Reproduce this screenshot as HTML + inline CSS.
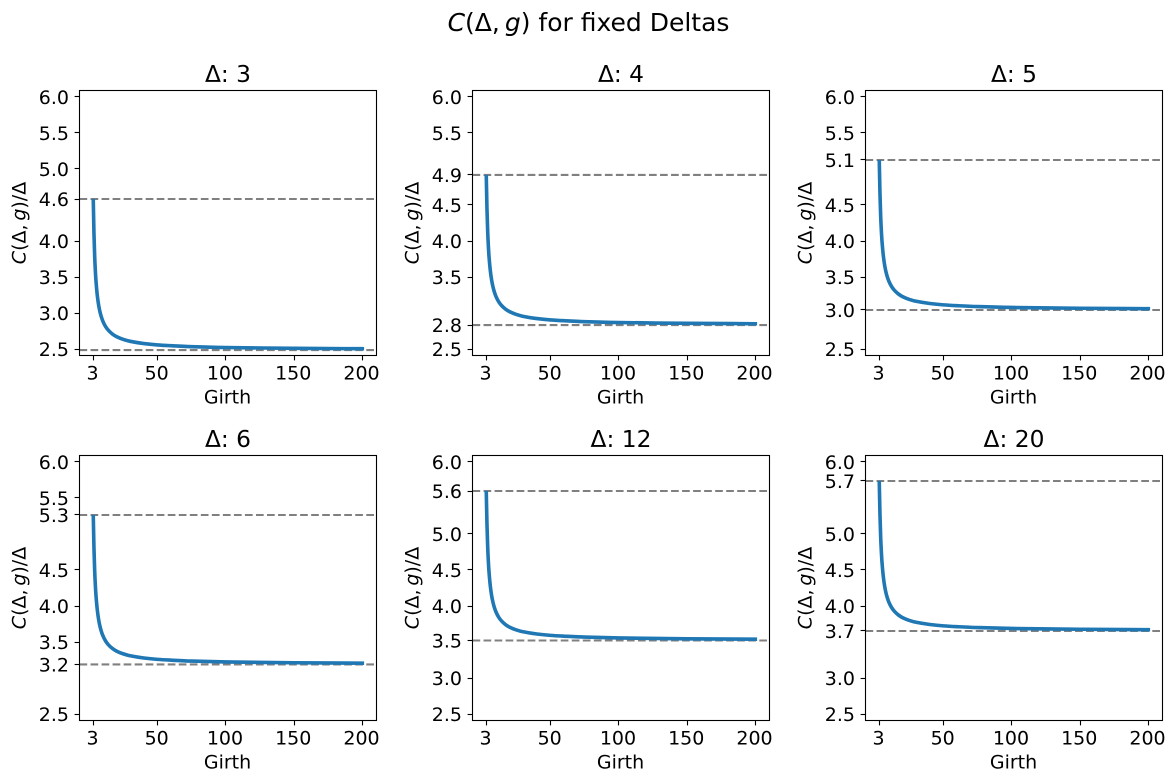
<!DOCTYPE html>
<html lang="en">
<head>
<meta charset="utf-8">
<title>C(Δ,g) for fixed Deltas</title>
<style>
html,body{margin:0;padding:0;background:#fff;width:1176px;height:783px;overflow:hidden}
svg{display:block}
text{font-family:"DejaVu Sans","Liberation Sans",sans-serif;fill:#000}
</style>
</head>
<body>
<svg id="figure" xmlns="http://www.w3.org/2000/svg" width="1176" height="783" viewBox="0 0 1176 783">
  <rect width="1176" height="783" fill="#fff"/>
  <text x="588.5" y="31" font-size="25" text-anchor="middle"><tspan font-style="italic">C</tspan>(Δ,&#8201;<tspan font-style="italic">g</tspan>) for fixed Deltas</text>
</svg>
<script>
const deltas = [3, 4, 5, 6, 12, 20];
const girths = [3, 3.5, 4, 4.5, 5, 6, 7, 8, 9, 10, 12, 14, 17, 20, 25, 30, 40, 50, 60, 75, 100, 150, 200];
const series3 = [4.559, 4.101, 3.796, 3.589, 3.437, 3.233, 3.100, 3.008, 2.940, 2.887, 2.812, 2.761, 2.708, 2.672, 2.633, 2.607, 2.576, 2.557, 2.546, 2.533, 2.521, 2.510, 2.504];
const series4 = [4.893, 4.448, 4.143, 3.936, 3.784, 3.580, 3.447, 3.355, 3.287, 3.234, 3.159, 3.108, 3.055, 3.019, 2.980, 2.954, 2.923, 2.904, 2.893, 2.880, 2.868, 2.857, 2.851];
const series5 = [5.101, 4.657, 4.352, 4.145, 3.993, 3.789, 3.656, 3.564, 3.496, 3.443, 3.368, 3.317, 3.264, 3.228, 3.189, 3.163, 3.132, 3.113, 3.102, 3.089, 3.077, 3.066, 3.060];
const series6 = [5.240, 4.803, 4.498, 4.291, 4.139, 3.935, 3.802, 3.710, 3.642, 3.589, 3.514, 3.463, 3.410, 3.374, 3.335, 3.309, 3.278, 3.259, 3.248, 3.235, 3.223, 3.212, 3.206];
const series12 = [5.573, 5.136, 4.831, 4.624, 4.472, 4.268, 4.135, 4.043, 3.975, 3.922, 3.847, 3.796, 3.743, 3.707, 3.668, 3.642, 3.611, 3.592, 3.581, 3.568, 3.556, 3.545, 3.539];
const series20 = [5.712, 5.268, 4.963, 4.756, 4.604, 4.400, 4.267, 4.175, 4.107, 4.054, 3.979, 3.928, 3.875, 3.839, 3.800, 3.774, 3.743, 3.724, 3.713, 3.700, 3.688, 3.677, 3.671];
const upperBounds = [4.583, 4.917, 5.125, 5.264, 5.597, 5.736];
const lowerBounds = [2.486, 2.833, 3.042, 3.188, 3.521, 3.653];
const xTickValues = [3, 50, 100, 150, 200];
const xTickLabels = ["3", "50", "100", "150", "200"];
const yTicks3 = [6, 5.5, 5, 4.583, 4, 3.5, 3, 2.5];
const yLabels3 = ["6.0", "5.5", "5.0", "4.6", "4.0", "3.5", "3.0", "2.5"];
const yTicks4 = [6, 5.5, 4.917, 4.5, 4, 3.5, 2.833, 2.5];
const yLabels4 = ["6.0", "5.5", "4.9", "4.5", "4.0", "3.5", "2.8", "2.5"];
const yTicks5 = [6, 5.5, 5.125, 4.5, 4, 3.5, 3.042, 2.5];
const yLabels5 = ["6.0", "5.5", "5.1", "4.5", "4.0", "3.5", "3.0", "2.5"];
const yTicks6 = [6, 5.5, 5.264, 4.5, 4, 3.5, 3.188, 2.5];
const yLabels6 = ["6.0", "5.5", "5.3", "4.5", "4.0", "3.5", "3.2", "2.5"];
const yTicks12 = [6, 5.597, 5, 4.5, 4, 3.521, 3, 2.5];
const yLabels12 = ["6.0", "5.6", "5.0", "4.5", "4.0", "3.5", "3.0", "2.5"];
const yTicks20 = [6, 5.736, 5, 4.5, 4, 3.653, 3, 2.5];
const yLabels20 = ["6.0", "5.7", "5.0", "4.5", "4.0", "3.7", "3.0", "2.5"];
const xDomain = [-7.1, 210.4];
const yDomain = [2.41, 6.09];
const boundDomain = [-7.1, 208.6];

const allSeries = [series3, series4, series5, series6, series12, series20];
const allYTicks = [yTicks3, yTicks4, yTicks5, yTicks6, yTicks12, yTicks20];
const allYLabels = [yLabels3, yLabels4, yLabels5, yLabels6, yLabels12, yLabels20];

const NS = "http://www.w3.org/2000/svg";
const svg = document.getElementById("figure");
const PANEL_W = 297, PANEL_H = 265;
const lefts = [79.5, 472.5, 865.5];
const tops = [90.5, 455.5];

function make(parent, tag, attrs, text) {
  const el = document.createElementNS(NS, tag);
  for (const k in attrs) el.setAttribute(k, attrs[k]);
  if (text !== undefined) el.textContent = text;
  parent.appendChild(el);
  return el;
}
function span(parent, text, italic) {
  return make(parent, "tspan", italic ? {"font-style": "italic"} : {}, text);
}
/* monotone cubic path through the plotted data points */
function smoothPath(xs, ys) {
  const n = xs.length, s = [], m = [];
  for (let i = 0; i < n - 1; i++) s.push((ys[i + 1] - ys[i]) / (xs[i + 1] - xs[i]));
  m.push(s[0]);
  for (let i = 1; i < n - 1; i++) {
    m.push(s[i - 1] * s[i] <= 0 ? 0 : 2 * s[i - 1] * s[i] / (s[i - 1] + s[i]));
  }
  m.push(s[n - 2]);
  let d = "M" + xs[0].toFixed(2) + " " + ys[0].toFixed(2);
  for (let i = 0; i < n - 1; i++) {
    const h = (xs[i + 1] - xs[i]) / 3;
    d += "C" + (xs[i] + h).toFixed(2) + " " + (ys[i] + m[i] * h).toFixed(2) + " " +
         (xs[i + 1] - h).toFixed(2) + " " + (ys[i + 1] - m[i + 1] * h).toFixed(2) + " " +
         xs[i + 1].toFixed(2) + " " + ys[i + 1].toFixed(2);
  }
  return d;
}

deltas.forEach(function (delta, i) {
  const left = lefts[i % 3];
  const top = tops[Math.floor(i / 3)];
  const bottom = top + PANEL_H;
  const xScale = function (v) { return left + (v - xDomain[0]) / (xDomain[1] - xDomain[0]) * PANEL_W; };
  const yScale = function (v) { return bottom - (v - yDomain[0]) / (yDomain[1] - yDomain[0]) * PANEL_H; };

  const g = make(svg, "g", {});
  
  

  const title = make(g, "text", {x: left + PANEL_W / 2, y: top - 8.5, "font-size": "23.33", "text-anchor": "middle"}, "Δ: " + delta);
  
  

  [upperBounds[i], lowerBounds[i]].forEach(function (b, k) {
    const line = make(g, "line", {
      x1: xScale(boundDomain[0]), x2: xScale(boundDomain[1]), y1: yScale(b), y2: yScale(b),
      stroke: "#808080", "stroke-width": "2.08", "stroke-dasharray": "7.7 3.33"
    });
    
    
  });

  const curve = make(g, "path", {
    d: smoothPath(girths.map(xScale), allSeries[i].map(yScale)),
    fill: "none", stroke: "#1f77b4", "stroke-width": "3.6",
    "stroke-linejoin": "round", "stroke-linecap": "square"
  });
  
  

  const frame = make(g, "rect", {x: left, y: top, width: PANEL_W, height: PANEL_H, fill: "none", stroke: "#000", "stroke-width": "1.1"});
  
  

  xTickValues.forEach(function (v, k) {
    const px = Math.round(xScale(v) - 0.5) + 0.5;
    const tick = make(g, "line", {x1: px, x2: px, y1: bottom, y2: bottom + 4.9, stroke: "#000", "stroke-width": "1.1"});
    
    
    const label = make(g, "text", {x: xScale(v) - 0.8, y: bottom + 24, "font-size": "19", "text-anchor": "middle"}, xTickLabels[k]);
    
    
  });

  allYTicks[i].forEach(function (v, k) {
    const py = Math.round(yScale(v) - 0.5) + 0.5;
    const tick = make(g, "line", {x1: left - 4.9, x2: left, y1: py, y2: py, stroke: "#000", "stroke-width": "1.1"});
    
    
    const label = make(g, "text", {x: left - 10.5, y: yScale(v) + 7.2, "font-size": "19", "text-anchor": "end"}, allYLabels[i][k]);
    
    
  });

  const xTitle = make(g, "text", {x: left + PANEL_W / 2 - 0.5, y: bottom + 48, "font-size": "19", "text-anchor": "middle"}, "Girth");
  
  

  const yX = left - 54, yY = top + PANEL_H / 2;
  const yTitle = make(g, "text", {x: yX, y: yY, "font-size": "19", "text-anchor": "middle", transform: "rotate(-90 " + yX + " " + yY + ")"});
  
  
  span(yTitle, "C", true);
  span(yTitle, "(Δ,\u2009", false);
  span(yTitle, "g", true);
  span(yTitle, ")/Δ", false);
});
</script>
</body>
</html>
